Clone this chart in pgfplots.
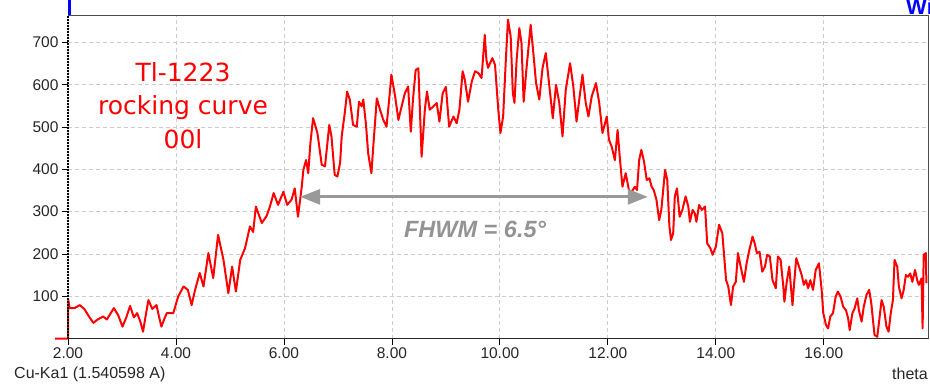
\documentclass[border=0pt]{standalone}
\usepackage{fontspec}
\setmainfont{Liberation Sans}
\newfontfamily\redfont{DejaVu Sans}
\usepackage{pgfplots}
\pgfplotsset{compat=1.18}
\usetikzlibrary{arrows.meta}
\definecolor{gridgray}{HTML}{CCCCCC}
\definecolor{arrowgray}{HTML}{999999}
\definecolor{textgray}{HTML}{939393}
\begin{document}
\begin{tikzpicture}
\begin{axis}[
  width=860bp, height=323.5bp, scale only axis,
  xmin=2, xmax=17.93, ymin=0, ymax=765,
  clip=false,
  axis line style={draw=none},
  xtick={2,4,6,8,10,12,14,16}, ytick={100,200,300,400,500,600,700},
  tick align=outside, xtick pos=bottom, ytick pos=left,
  major tick length=6bp,
  tick style={black, line width=0.8bp},
  grid=major,
  major grid style={gridgray, line width=0.8bp, dash pattern=on 4bp off 3bp},
  xticklabel={\pgfmathprintnumber[fixed,fixed zerofill,precision=2]{\tick}},
  tick label style={font=\fontsize{15.5bp}{18bp}\selectfont, text=black!85},
  /pgf/number format/assume math mode=true,
]
\draw[gridgray, line width=0.8bp, dash pattern=on 4bp off 3bp] (axis cs:17.93,0) -- (axis cs:17.93,765);
\addplot[red, line width=2bp, line join=round, mark=none] coordinates {
(1.76,0) (2.0,0) (2.006,91) (2.03,72) (2.12,72) (2.22,79) (2.30,70) (2.40,50) (2.47,37) (2.55,45) (2.65,52) (2.72,45) (2.85,72) (2.93,55) (3.01,28) (3.08,50) (3.15,77) (3.22,50) (3.28,60) (3.34,40) (3.39,16) (3.44,55) (3.49,91) (3.56,70) (3.64,79) (3.68,55) (3.73,28) (3.78,45) (3.83,60) (3.95,60) (4.04,99) (4.14,123) (4.22,115) (4.29,79) (4.35,113) (4.44,155) (4.51,123) (4.60,202) (4.69,143) (4.78,245) (4.88,186) (4.97,107) (5.04,170) (5.11,111) (5.19,186) (5.28,214) (5.37,265) (5.43,252) (5.48,312) (5.59,273) (5.68,290) (5.74,312) (5.81,344) (5.89,316) (5.99,347) (6.06,316) (6.14,328) (6.20,355) (6.26,288) (6.33,359) (6.36,399) (6.41,422) (6.45,391) (6.49,462) (6.54,521) (6.62,486) (6.70,411) (6.76,407) (6.84,505) (6.88,478) (6.94,387) (6.99,383) (7.04,415) (7.07,478) (7.13,537) (7.17,584) (7.22,565) (7.28,505) (7.35,501) (7.39,560) (7.44,549) (7.47,565) (7.52,505) (7.56,438) (7.62,391) (7.65,446) (7.72,568) (7.78,541) (7.84,517) (7.90,501) (7.96,580) (7.99,624) (8.06,572) (8.12,517) (8.18,549) (8.24,580) (8.30,596) (8.35,489) (8.39,565) (8.44,635) (8.49,639) (8.55,430) (8.61,541) (8.65,584) (8.70,541) (8.77,549) (8.83,557) (8.88,513) (8.94,580) (9.00,595) (9.06,501) (9.14,525) (9.20,509) (9.25,541) (9.31,632) (9.35,612) (9.41,560) (9.48,608) (9.54,632) (9.60,628) (9.66,616) (9.72,718) (9.75,659) (9.78,640) (9.86,663) (9.91,647) (9.97,541) (10.01,486) (10.06,525) (10.11,659) (10.15,754) (10.20,714) (10.24,580) (10.27,557) (10.31,659) (10.36,734) (10.40,699) (10.44,560) (10.49,635) (10.57,742) (10.62,675) (10.67,604) (10.73,565) (10.79,640) (10.85,675) (10.91,604) (10.98,521) (11.04,600) (11.10,557) (11.16,478) (11.22,588) (11.30,651) (11.36,596) (11.42,513) (11.47,565) (11.53,624) (11.59,557) (11.64,525) (11.70,572) (11.78,604) (11.84,557) (11.90,486) (11.98,525) (12.02,470) (12.07,454) (12.13,422) (12.18,493) (12.22,430) (12.27,359) (12.33,391) (12.39,351) (12.44,347) (12.50,359) (12.54,351) (12.58,422) (12.62,446) (12.67,418) (12.72,375) (12.77,379) (12.81,359) (12.85,351) (12.90,328) (12.95,280) (12.99,304) (13.06,399) (13.10,375) (13.14,265) (13.17,233) (13.21,249) (13.24,336) (13.28,355) (13.33,288) (13.38,304) (13.44,336) (13.49,312) (13.52,276) (13.57,304) (13.61,296) (13.64,276) (13.69,316) (13.74,304) (13.80,312) (13.84,225) (13.90,213) (13.94,198) (14.00,217) (14.06,269) (14.12,249) (14.19,138) (14.23,123) (14.28,79) (14.32,123) (14.37,134) (14.41,202) (14.46,170) (14.52,134) (14.57,178) (14.62,209) (14.68,241) (14.72,225) (14.76,202) (14.81,205) (14.86,158) (14.91,170) (14.95,198) (15.00,194) (15.05,138) (15.11,119) (15.15,194) (15.20,186) (15.25,123) (15.27,87) (15.31,131) (15.36,170) (15.39,123) (15.42,79) (15.45,131) (15.49,190) (15.54,170) (15.59,150) (15.63,127) (15.67,138) (15.71,119) (15.75,138) (15.80,115) (15.85,162) (15.91,178) (15.96,115) (15.99,60) (16.04,32) (16.08,24) (16.12,52) (16.17,60) (16.22,99) (16.26,111) (16.31,99) (16.36,75) (16.41,67) (16.45,48) (16.48,20) (16.53,60) (16.57,71) (16.62,95) (16.65,67) (16.70,40) (16.74,75) (16.79,103) (16.84,115) (16.88,83) (16.91,44) (16.94,8) (16.99,4) (17.02,36) (17.07,91) (17.11,75) (17.16,28) (17.20,16) (17.24,60) (17.28,91) (17.31,186) (17.36,170) (17.39,123) (17.44,95) (17.48,115) (17.52,150) (17.56,146) (17.60,154) (17.64,134) (17.69,162) (17.73,138) (17.76,127) (17.81,142) (17.83,24) (17.85,198) (17.89,202) (17.90,131)
};
\draw[black, line width=1.4bp, dash pattern=on 1.4bp off 1.6bp] (rel axis cs:0,0) -- (rel axis cs:0,1);
\draw[black!85, line width=1bp] (rel axis cs:0,0) -- (rel axis cs:1,0);
\draw[black!70, line width=1bp] (rel axis cs:0,1) -- (rel axis cs:1,1) -- (rel axis cs:1,0);
\node[red, font=\redfont\fontsize{25bp}{33.5bp}\selectfont, align=center, anchor=north, inner sep=0pt] at (axis cs:4.13,654) {Tl-1223\\rocking curve\\00l};
\draw[arrowgray, line width=3bp, {Triangle[length=20bp,width=15bp]}-{Triangle[length=20bp,width=15bp]}] (axis cs:6.30,335) -- (axis cs:12.74,335);
\node[textgray, font=\bfseries\itshape\fontsize{23.5bp}{28bp}\selectfont] at (axis cs:9.54,259) {FHWM = 6.5°};
\end{axis}
\coordinate (bl) at ([shift={(-68bp,-46.5bp)}]current axis.south west);
\coordinate (tr) at ([shift={(2bp,15bp)}]current axis.north east);
\fill[blue] ([shift={(-0.5bp,0bp)}]current axis.north west) rectangle ++(3.5bp,15bp);
\begin{scope}
\clip ([shift={(-25bp,0bp)}]current axis.north east) rectangle (tr);
\node[blue, font=\bfseries\fontsize{22bp}{24bp}\selectfont, anchor=base west, inner sep=0pt] at ([shift={(-22bp,1bp)}]current axis.north east) {Wi};
\end{scope}
\node[anchor=base west, inner sep=0pt, text=black!85, font=\fontsize{16bp}{18bp}\selectfont] at ([shift={(-54bp,-40bp)}]current axis.south west) {Cu-Ka1 (1.540598 A)};
\node[anchor=base east, inner sep=0pt, text=black!85, font=\fontsize{16bp}{18bp}\selectfont] at ([shift={(0bp,-40.5bp)}]current axis.south east) {theta};
\pgfresetboundingbox
\path[use as bounding box] (bl) rectangle (tr);
\end{tikzpicture}
\end{document}
